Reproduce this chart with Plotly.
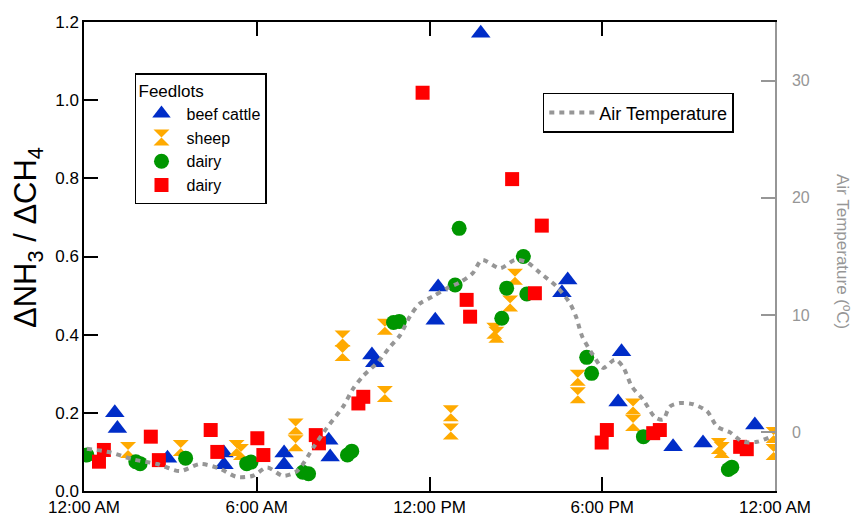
import plotly.graph_objects as go

# ---- data (hours since midnight) ----
beef_h = [1.07, 1.16, 2.9, 4.86, 4.86, 6.95, 6.95, 8.5, 8.55, 10.0, 10.1, 12.2, 12.3, 13.78, 16.6, 16.8, 18.55, 18.67, 20.46, 21.5, 23.3]
beef_v = [0.200, 0.160, 0.084, 0.097, 0.067, 0.097, 0.067, 0.130, 0.087, 0.348, 0.328, 0.437, 0.522, 1.171, 0.507, 0.540, 0.228, 0.356, 0.113, 0.123, 0.169]

sheep_h = [1.53, 3.36, 5.3, 5.45, 7.35, 7.35, 8.98, 8.98, 10.45, 10.45, 12.74, 12.74, 14.25, 14.32, 14.8, 14.97, 17.15, 17.15, 19.07, 19.07, 22.05, 22.15, 23.95, 23.95]
sheep_v = [0.105, 0.110, 0.110, 0.100, 0.165, 0.122, 0.390, 0.353, 0.420, 0.248, 0.199, 0.152, 0.410, 0.400, 0.480, 0.548, 0.290, 0.245, 0.216, 0.174, 0.115, 0.105, 0.143, 0.100]

dairy1_h = [0.1, 1.8, 1.95, 3.53, 5.65, 5.8, 7.6, 7.8, 9.15, 9.3, 10.75, 10.95, 12.89, 13.03, 14.51, 14.68, 15.26, 15.38, 17.46, 17.63, 19.43, 22.38, 22.5]
dairy1_v = [0.092, 0.075, 0.070, 0.084, 0.070, 0.074, 0.048, 0.044, 0.092, 0.102, 0.431, 0.434, 0.527, 0.672, 0.442, 0.519, 0.600, 0.504, 0.342, 0.301, 0.139, 0.055, 0.061]

dairy2_h = [0.52, 0.69, 2.32, 2.6, 4.4, 4.63, 6.02, 6.23, 8.05, 8.16, 9.53, 9.7, 11.76, 13.29, 13.41, 14.87, 15.66, 15.9, 17.98, 18.16, 19.77, 20.0, 22.79, 23.02]
dairy2_v = [0.075, 0.105, 0.139, 0.079, 0.156, 0.100, 0.135, 0.092, 0.143, 0.122, 0.224, 0.241, 1.019, 0.489, 0.446, 0.798, 0.506, 0.679, 0.124, 0.156, 0.148, 0.156, 0.113, 0.107]

temp_h = [0.10, 0.90, 1.70, 2.54, 3.33, 4.03, 4.72, 5.31, 5.87, 6.36, 6.91, 7.40, 7.99, 8.44, 9.0, 9.34, 9.69,
          10.21, 10.63, 10.98, 11.32, 11.67, 12.12, 12.61, 13.06, 13.51, 13.82, 14.45, 14.97, 15.39, 15.84,
          16.43, 16.88, 17.1, 17.30, 17.68, 18.03, 18.44, 18.72, 19.03, 19.42, 19.83, 20.11, 20.35, 20.70,
          21.15, 21.64, 21.99, 22.44, 22.89, 23.38, 23.83]
temp_c = [-1.4, -1.7, -2.3, -2.7, -3.3, -2.7, -3.1, -3.8, -3.7, -3.0, -3.7, -3.3, -1.2, 0.4, 2.2, 3.7, 4.8,
          6.0, 7.3, 8.3, 9.9, 11.0, 11.6, 12.3, 12.8, 13.6, 14.7, 14.0, 14.7, 14.5, 13.6,
          12.4, 11.0, 9.8, 8.2, 6.6, 5.5, 6.2, 5.6, 3.9, 2.8, 1.3, 1.1, 2.2, 2.5,
          2.4, 1.8, 0.5, 0.0, -0.8, -0.8, -0.4]

tick_hours = [0, 6, 12, 18, 24]
tick_text = ["12:00 AM", "6:00 AM", "12:00 PM", "6:00 PM", "12:00 AM"]

FONT = "Liberation Sans, Arial, sans-serif"
GRAY = "rgb(150,150,150)"

fig = go.Figure()
mk = dict(line=dict(width=0))
fig.add_trace(go.Scatter(x=beef_h, y=beef_v, mode="markers", name="beef cattle",
                         marker=dict(symbol="triangle-up", size=17, color="rgb(0,45,200)", **mk), legend="legend"))
fig.add_trace(go.Scatter(x=sheep_h, y=sheep_v, mode="markers", name="sheep",
                         marker=dict(symbol="hourglass", size=16, color="rgb(255,170,0)", **mk), legend="legend"))
fig.add_trace(go.Scatter(x=dairy1_h, y=dairy1_v, mode="markers", name="dairy",
                         marker=dict(symbol="circle", size=15, color="rgb(0,150,0)", **mk), legend="legend"))
fig.add_trace(go.Scatter(x=dairy2_h, y=dairy2_v, mode="markers", name="dairy",
                         marker=dict(symbol="square", size=14, color="rgb(255,0,0)", **mk), legend="legend"))
fig.add_trace(go.Scatter(x=temp_h, y=temp_c, mode="lines", name="Air Temperature", yaxis="y2",
                         line=dict(color=GRAY, width=4, dash="5px,5px", shape="spline", smoothing=0.8),
                         legend="legend2"))

PW, PH = 691, 469  # plot area size in px

fig.update_layout(
    width=851, height=519,
    margin=dict(l=84, r=76, t=22, b=28),
    paper_bgcolor="white", plot_bgcolor="white",
    font=dict(family=FONT, size=17, color="black"),
    showlegend=True,
    xaxis=dict(range=[0, 24], tickvals=tick_hours, ticktext=tick_text, showgrid=False, zeroline=False,
               showline=True, linecolor="black", linewidth=1.5, mirror="ticks", automargin=False,
               ticks="inside", ticklen=14, tickwidth=1.5, tickcolor="black",
               tickfont=dict(size=17)),
    yaxis=dict(range=[0, 1.2], tickvals=[0, 0.2, 0.4, 0.6, 0.8, 1.0, 1.2], tickformat=".1f",
               showgrid=False, zeroline=False, showline=True, linecolor="black", linewidth=1.5,
               automargin=False,
               ticks="inside", ticklen=14, tickwidth=1.5, tickcolor="black", tickfont=dict(size=17)),
    yaxis2=dict(range=[-5, 35], tickvals=[0, 10, 20, 30], overlaying="y", side="right",
                showgrid=False, zeroline=False, showline=True, linecolor=GRAY, linewidth=1.5,
                automargin=False, ticklabelstandoff=12,
                ticks="inside", ticklen=14, tickwidth=1.5, tickcolor=GRAY,
                tickfont=dict(size=16, color=GRAY)),
    legend=dict(x=0.0738, y=0.891, xanchor="left", yanchor="top", bgcolor="white",
                bordercolor="black", borderwidth=1.5, font=dict(size=16), itemwidth=40,
                title=dict(text="Feedlots", font=dict(size=17)), tracegroupgap=0, itemsizing="trace"),
    legend2=dict(x=0.664, y=0.849, xanchor="left", yanchor="top", bgcolor="white", itemwidth=45,
                 bordercolor="black", borderwidth=1.5, font=dict(size=18)),
    annotations=[
        dict(text="ΔNH<sub>3</sub> / ΔCH<sub>4</sub>", textangle=-90, xref="paper", yref="paper",
             x=(6 - 84) / PW, y=(491 - 238) / PH, xanchor="left", yanchor="middle",
             showarrow=False, font=dict(size=31, color="black")),
        dict(text="Air Temperature (ºC)", textangle=90, xref="paper", yref="paper",
             x=1.0 + 68 / PW, y=(491 - 252) / PH, xanchor="center", yanchor="middle",
             showarrow=False, font=dict(size=17, color=GRAY)),
    ],
)

fig.write_html("out.html")
